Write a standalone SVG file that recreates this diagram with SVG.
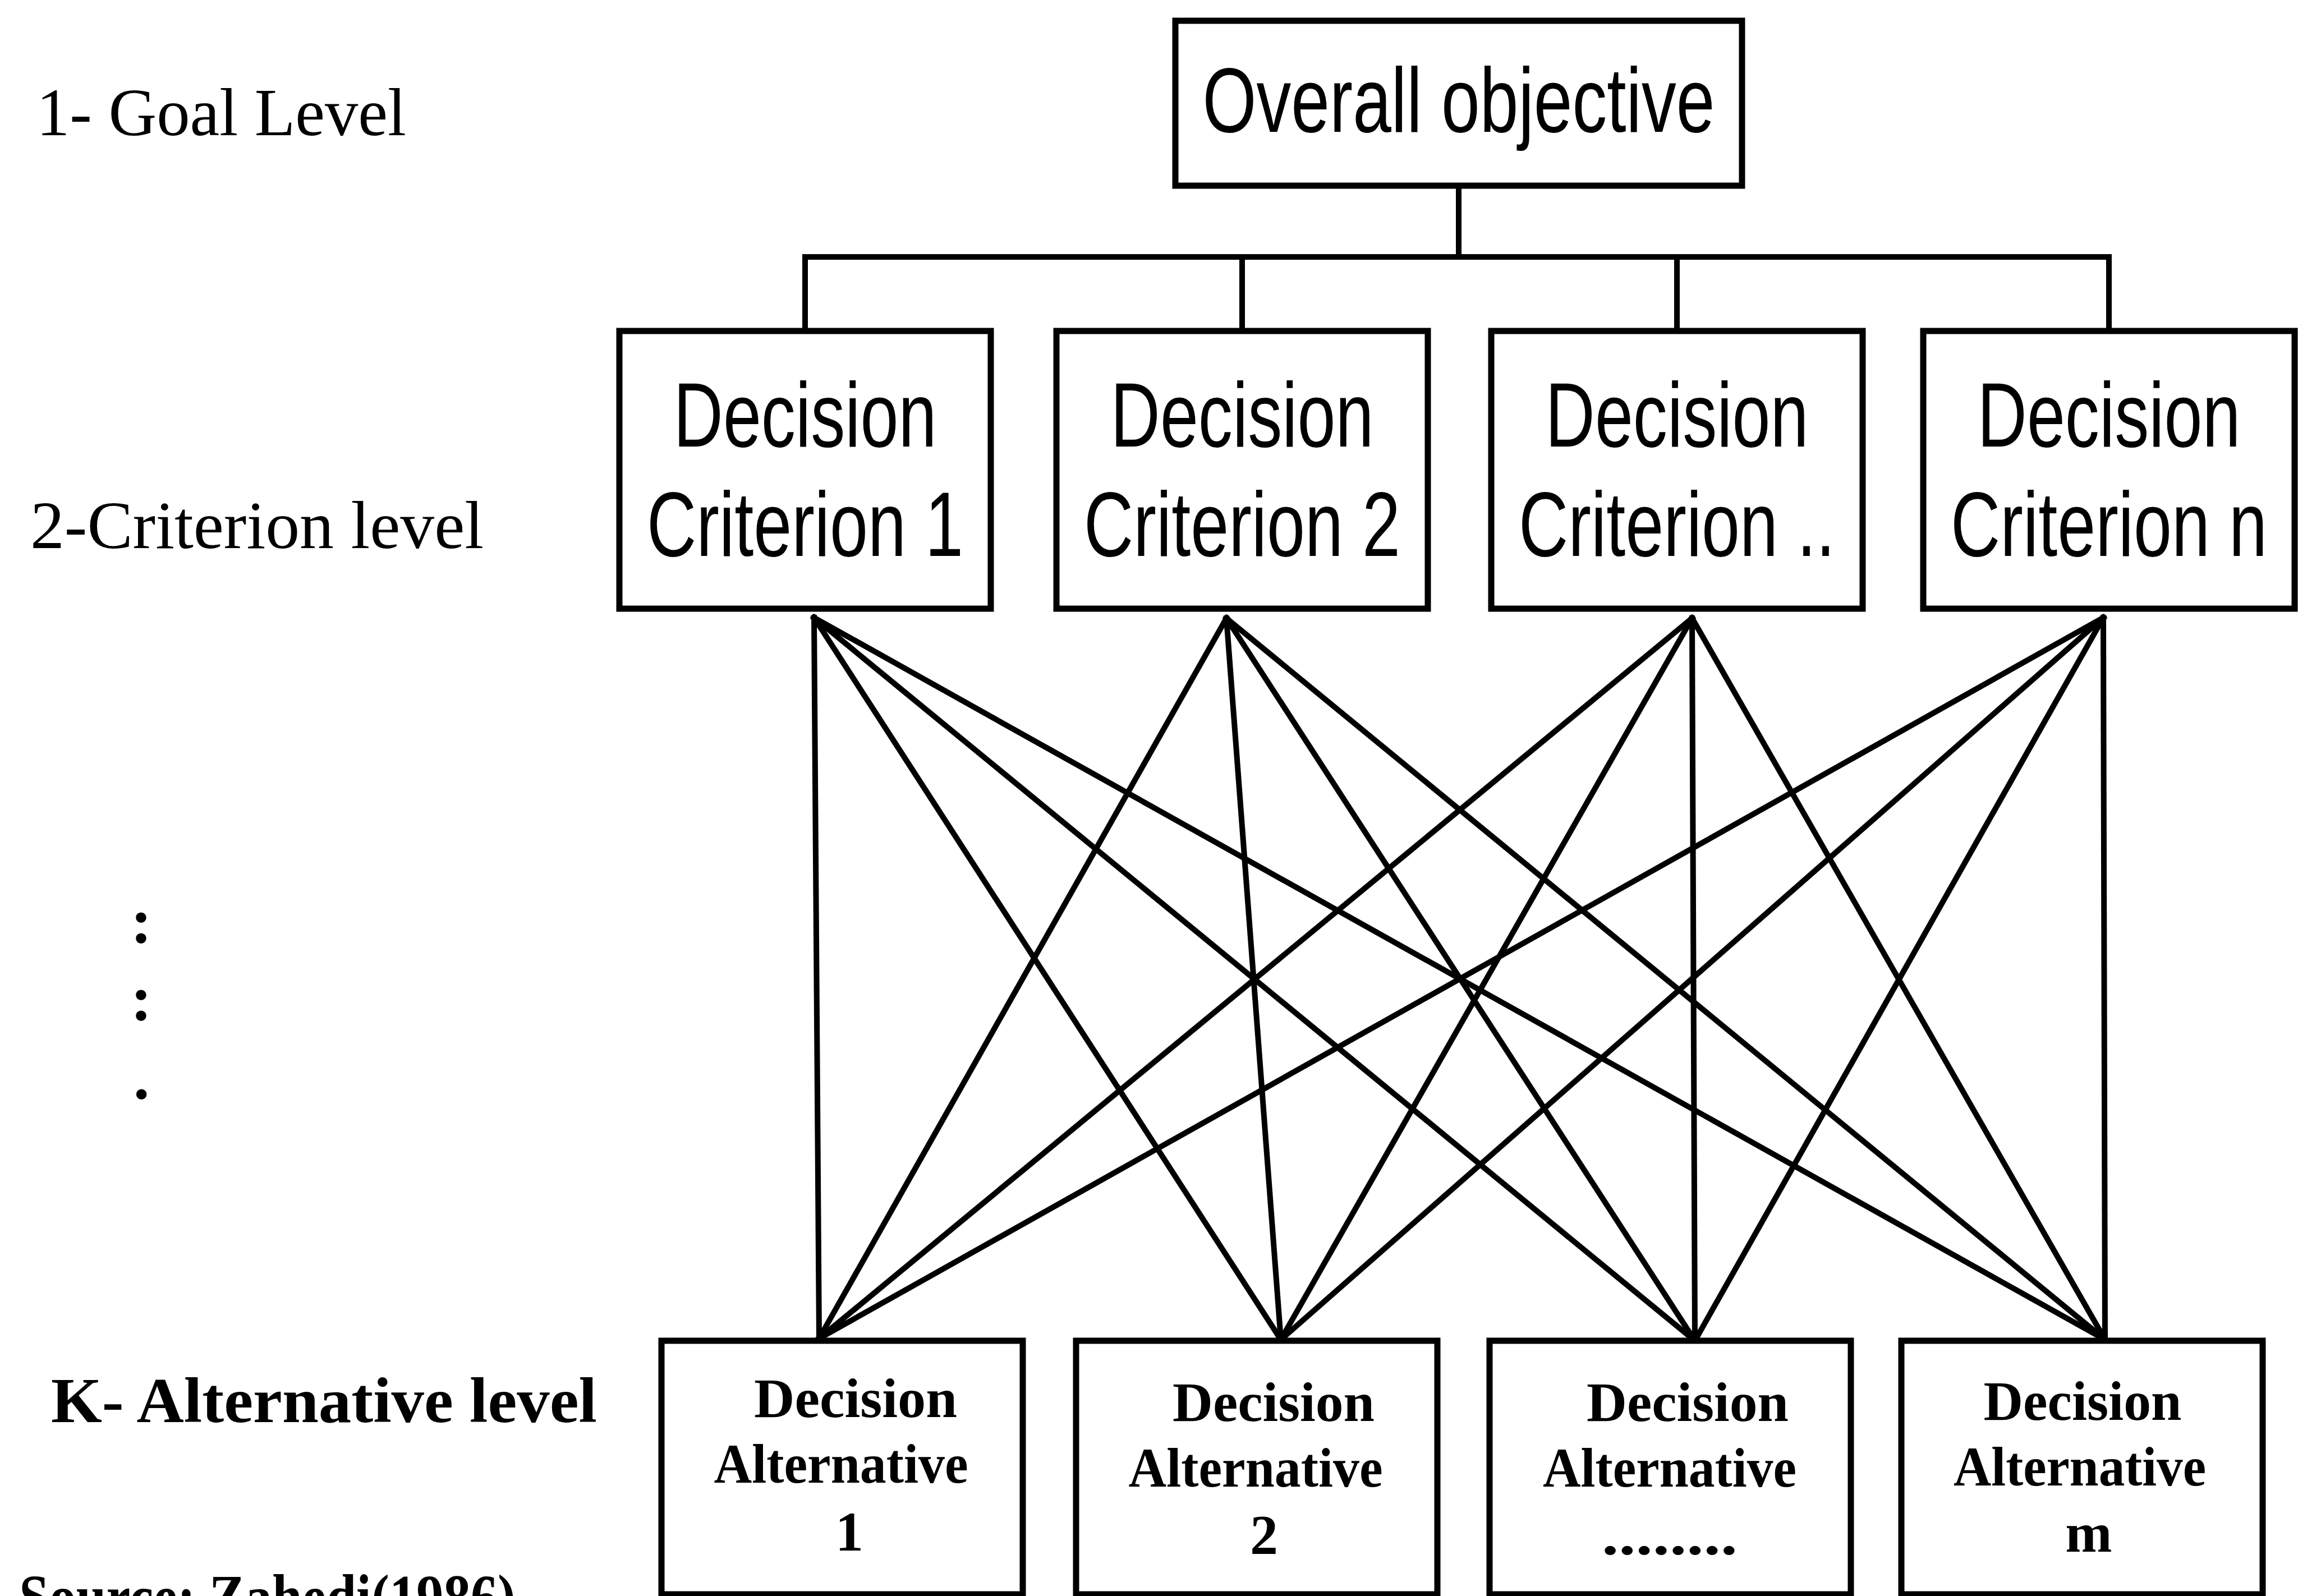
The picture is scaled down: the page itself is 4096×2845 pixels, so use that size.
<svg xmlns="http://www.w3.org/2000/svg" width="4096" height="2845" viewBox="0 0 4096 2845">
<style>
.box{fill:#fff;stroke:#000;stroke-width:11}
.ln{stroke:#000;stroke-width:10;fill:none;stroke-linecap:square}
.sans{font-family:"Liberation Sans",Arial,sans-serif;font-size:163px;fill:#000}
.alt{font-family:"Liberation Serif","Times New Roman",serif;font-size:100px;font-weight:bold;fill:#000;text-anchor:middle}
.lbl{font-family:"Liberation Serif","Times New Roman",serif;font-size:120px;fill:#000}
.lblb{font-family:"Liberation Serif","Times New Roman",serif;font-size:115px;font-weight:bold;fill:#000}
</style>
<rect width="4096" height="2845" fill="#fff"/>

<g id="labels">
<text class="lbl" x="65" y="241" textLength="659" lengthAdjust="spacingAndGlyphs">1- Goal Level</text>
<text class="lbl" x="54" y="977" textLength="808" lengthAdjust="spacingAndGlyphs">2-Criterion level</text>
<text class="lblb" x="252" y="1680" text-anchor="middle">:</text>
<text class="lblb" x="252" y="1818" text-anchor="middle">:</text>
<text class="lblb" x="252" y="1958" text-anchor="middle">.</text>
<text class="lblb" x="91" y="2535" textLength="973" lengthAdjust="spacingAndGlyphs">K- Alternative level</text>
<text class="lblb" x="34" y="2886" textLength="885" lengthAdjust="spacingAndGlyphs">Source: Zahedi(1986)</text>
</g>

<g id="connectors">
<line class="ln" x1="2600" y1="331" x2="2600" y2="458"/>
<line class="ln" x1="1435" y1="458" x2="3759" y2="458"/>
<line class="ln" x1="1435" y1="458" x2="1435" y2="590"/>
<line class="ln" x1="2214" y1="458" x2="2214" y2="590"/>
<line class="ln" x1="2989" y1="458" x2="2989" y2="590"/>
<line class="ln" x1="3759" y1="458" x2="3759" y2="590"/>
<g stroke-linecap="round">
<line class="ln" x1="1451" y1="1101" x2="1460" y2="2386"/>
<line class="ln" x1="1451" y1="1101" x2="2283" y2="2388"/>
<line class="ln" x1="1451" y1="1101" x2="3021" y2="2390"/>
<line class="ln" x1="1451" y1="1101" x2="3752" y2="2388"/>
<line class="ln" x1="2186" y1="1102" x2="1460" y2="2386"/>
<line class="ln" x1="2186" y1="1102" x2="2283" y2="2388"/>
<line class="ln" x1="2186" y1="1102" x2="3021" y2="2390"/>
<line class="ln" x1="2186" y1="1102" x2="3752" y2="2388"/>
<line class="ln" x1="3016" y1="1102" x2="1460" y2="2386"/>
<line class="ln" x1="3016" y1="1102" x2="2283" y2="2388"/>
<line class="ln" x1="3016" y1="1102" x2="3021" y2="2390"/>
<line class="ln" x1="3016" y1="1102" x2="3752" y2="2388"/>
<line class="ln" x1="3749" y1="1101" x2="1460" y2="2386"/>
<line class="ln" x1="3749" y1="1101" x2="2283" y2="2388"/>
<line class="ln" x1="3749" y1="1101" x2="3021" y2="2390"/>
<line class="ln" x1="3749" y1="1101" x2="3752" y2="2388"/>
</g>
</g>

<g id="goal">
<rect class="box" x="2095" y="37" width="1010" height="294"/>
<text class="sans" x="2600" y="235" text-anchor="middle" textLength="913" lengthAdjust="spacingAndGlyphs">Overall objective</text>
</g>

<g id="criterion1">
<rect class="box" x="1104" y="590" width="662" height="495"/>
<text class="sans" transform="translate(1435,796) scale(0.75,1)" text-anchor="middle">Decision</text>
<text class="sans" transform="translate(1435,991) scale(0.75,1)" text-anchor="middle">Criterion 1</text>
</g>
<g id="criterion2">
<rect class="box" x="1883" y="590" width="662" height="495"/>
<text class="sans" transform="translate(2214,796) scale(0.75,1)" text-anchor="middle">Decision</text>
<text class="sans" transform="translate(2214,991) scale(0.75,1)" text-anchor="middle">Criterion 2</text>
</g>
<g id="criterion3">
<rect class="box" x="2658" y="590" width="662" height="495"/>
<text class="sans" transform="translate(2989,796) scale(0.75,1)" text-anchor="middle">Decision</text>
<text class="sans" transform="translate(2989,991) scale(0.75,1)" text-anchor="middle">Criterion ..</text>
</g>
<g id="criterionN">
<rect class="box" x="3428" y="590" width="662" height="495"/>
<text class="sans" transform="translate(3759,796) scale(0.75,1)" text-anchor="middle">Decision</text>
<text class="sans" transform="translate(3759,991) scale(0.75,1)" text-anchor="middle">Criterion n</text>
</g>

<g id="alternative1">
<rect class="box" x="1179" y="2390" width="644" height="452"/>
<text class="alt" x="1525" y="2526" textLength="362" lengthAdjust="spacingAndGlyphs">Decision</text>
<text class="alt" x="1499" y="2643" textLength="453" lengthAdjust="spacingAndGlyphs">Alternative</text>
<text class="alt" x="1514" y="2764">1</text>
</g>
<g id="alternative2">
<rect class="box" x="1918" y="2390" width="644" height="452"/>
<text class="alt" x="2270" y="2533" textLength="360" lengthAdjust="spacingAndGlyphs">Decision</text>
<text class="alt" x="2238" y="2650" textLength="453" lengthAdjust="spacingAndGlyphs">Alternative</text>
<text class="alt" x="2253" y="2769">2</text>
</g>
<g id="alternative3">
<rect class="box" x="2655" y="2390" width="644" height="452"/>
<text class="alt" x="3008" y="2533" textLength="360" lengthAdjust="spacingAndGlyphs">Decision</text>
<text class="alt" x="2976" y="2650" textLength="452" lengthAdjust="spacingAndGlyphs">Alternative</text>
<text class="alt" x="2976" y="2771" textLength="242" lengthAdjust="spacingAndGlyphs">........</text>
</g>
<g id="alternativeM">
<rect class="box" x="3389" y="2390" width="644" height="452"/>
<text class="alt" x="3712" y="2531" textLength="353" lengthAdjust="spacingAndGlyphs">Decision</text>
<text class="alt" x="3707" y="2648" textLength="450" lengthAdjust="spacingAndGlyphs">Alternative</text>
<text class="alt" x="3723" y="2766">m</text>
</g>
</svg>
